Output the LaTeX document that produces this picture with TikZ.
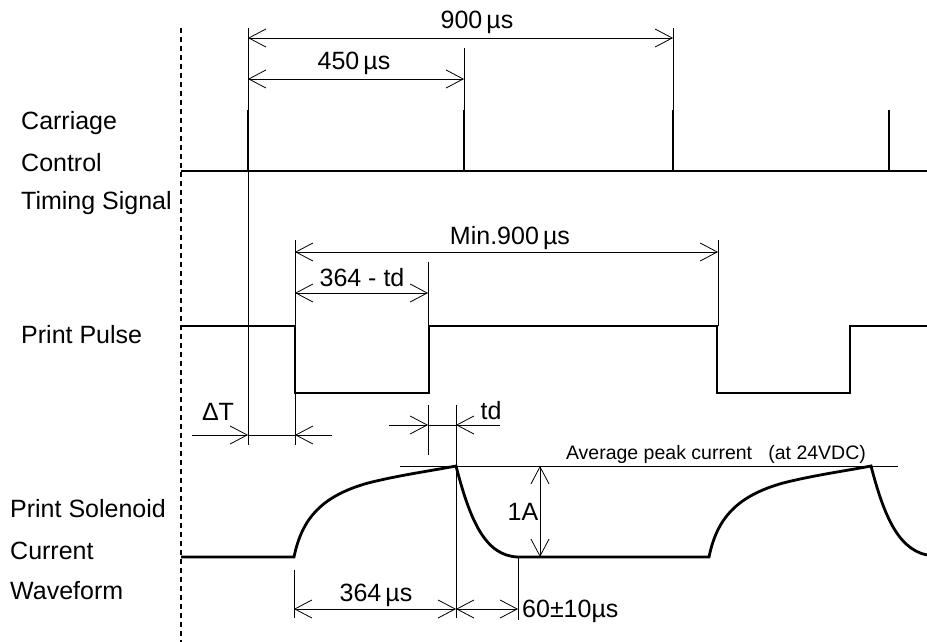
\documentclass[tikz,border=0pt]{standalone}
\usepackage{fontspec}
\setmainfont{Liberation Sans}
\usepackage{tikz}
\usetikzlibrary{arrows.meta}

\begin{document}
\begin{tikzpicture}[
  x=1pt, y=-1pt,
  lbl/.style={font=\fontsize{25}{30}\selectfont, inner sep=0pt},
  note/.style={font=\fontsize{19.5}{23}\selectfont, inner sep=0pt},
  wave/.style={line width=2.8pt, line join=miter},
  guide/.style={line width=0.8pt},
  dim/.style={guide, {Straight Barb[length=17pt,width=18pt]}-{Straight Barb[length=17pt,width=18pt]}},
  tip/.style={guide, -{Straight Barb[length=17pt,width=18pt]}}
]
\useasboundingbox (0,0) rectangle (927,642);

% signal names
\node[lbl, anchor=base west] (carr) at (21,129) {Carriage};
\node[lbl, anchor=base west] (ctrl) at (21,171) {Control};
\node[lbl, anchor=base west] (timg) at (21,209) {Timing Signal};
\node[lbl, anchor=base west] (ppul) at (21,343) {Print Pulse};
\node[lbl, anchor=base west] (psol) at (10,517) {Print Solenoid};
\node[lbl, anchor=base west] (curr) at (10,559) {Current};
\node[lbl, anchor=base west] (wave) at (10,599) {Waveform};

% time origin
\coordinate (o1) at (181,28);
\coordinate (o2) at (181,642);
\draw[line width=1.6pt, dash pattern=on 5pt off 4pt] (o1) -- (o2);

% carriage control timing signal
\draw[wave] (181,171) -- (927,171);
\foreach \x in {248,464,673,889}
  \draw[wave] (\x,171) -- (\x,110);

% print pulse
\draw[wave] (181,326) -- (295,326) -- (295,393) -- (429,393) -- (429,326)
  -- (717,326) -- (717,393) -- (850,393) -- (850,326) -- (927,326);

% solenoid current
\draw[wave] (181,557) -- (294,557)
  .. controls (302,518) and (322,496) .. (368,483)
  .. controls (400,475) and (430,471) .. (456,466)
  .. controls (470,520) and (485,556) .. (518,557) -- (709,557)
  .. controls (717,518) and (737,496) .. (783,483)
  .. controls (815,475) and (845,471) .. (871,466)
  .. controls (883,512) and (897,549) .. (927,555);

% extension lines
\coordinate (a0) at (248,28);   \coordinate (a1) at (248,445);
\coordinate (b0) at (464,48);   \coordinate (b1) at (464,110);
\coordinate (c0) at (673,28);   \coordinate (c1) at (673,110);
\coordinate (p0) at (295,240);  \coordinate (p1) at (295,326);
\coordinate (p2) at (295,393);  \coordinate (p3) at (295,445);
\coordinate (q0) at (428,262);  \coordinate (q1) at (428,326);
\coordinate (r0) at (718,240);  \coordinate (r1) at (718,326);
\coordinate (s0) at (428,405);  \coordinate (s1) at (428,455);
\coordinate (t0) at (456,405);  \coordinate (t1) at (456,618);
\coordinate (u0) at (294,570);  \coordinate (u1) at (294,618);
\coordinate (v0) at (518,557);  \coordinate (v1) at (518,620);
\foreach \m/\n in {a0/a1,b0/b1,c0/c1,p0/p1,p2/p3,q0/q1,r0/r1,s0/s1,t0/t1,u0/u1,v0/v1}
  \draw[guide] (\m) -- (\n);

% dimensions, top
\draw[dim] (248,38) -- (673,38);
\node[lbl, anchor=base] (d900) at (477,29) {900\,µs};
\draw[dim] (248,79) -- (464,79);
\node[lbl, anchor=base] (d450) at (354,70) {450\,µs};
\draw[dim] (295,252) -- (718,252);
\node[lbl, anchor=base] (dmin) at (510,244) {Min.900\,µs};
\draw[dim] (295,293) -- (428,293);
\node[lbl, anchor=base] (dpw) at (362,286) {364 - td};

% delta T
\draw[tip] (192,435) -- (248,435);
\draw[guide] (248,435) -- (295,435);
\draw[tip] (332,435) -- (295,435);
\node[lbl, anchor=base] (dT) at (218,420) {ΔT};

% td
\draw[tip] (389,425) -- (428,425);
\draw[guide] (428,425) -- (456,425);
\draw[tip] (500,425) -- (456,425);
\node[lbl, anchor=base] (dtd) at (491,419) {td};

% current levels
\draw[guide] (400,466) -- (898,466);
\node[note, anchor=base] (avg) at (716,459) {Average peak current\ \ \ (at 24VDC)};
\draw[dim] (540,466) -- (540,557);
\node[lbl] (d1A) at (523,512) {1A};

% bottom dimensions
\draw[dim] (294,609) -- (456,609);
\node[lbl, anchor=base] (d364) at (376,601) {364\,µs};
\draw[dim] (456,609) -- (518,609);
\node[lbl, anchor=base west] (d60) at (522,617) {60±10µs};
\end{tikzpicture}
\end{document}
